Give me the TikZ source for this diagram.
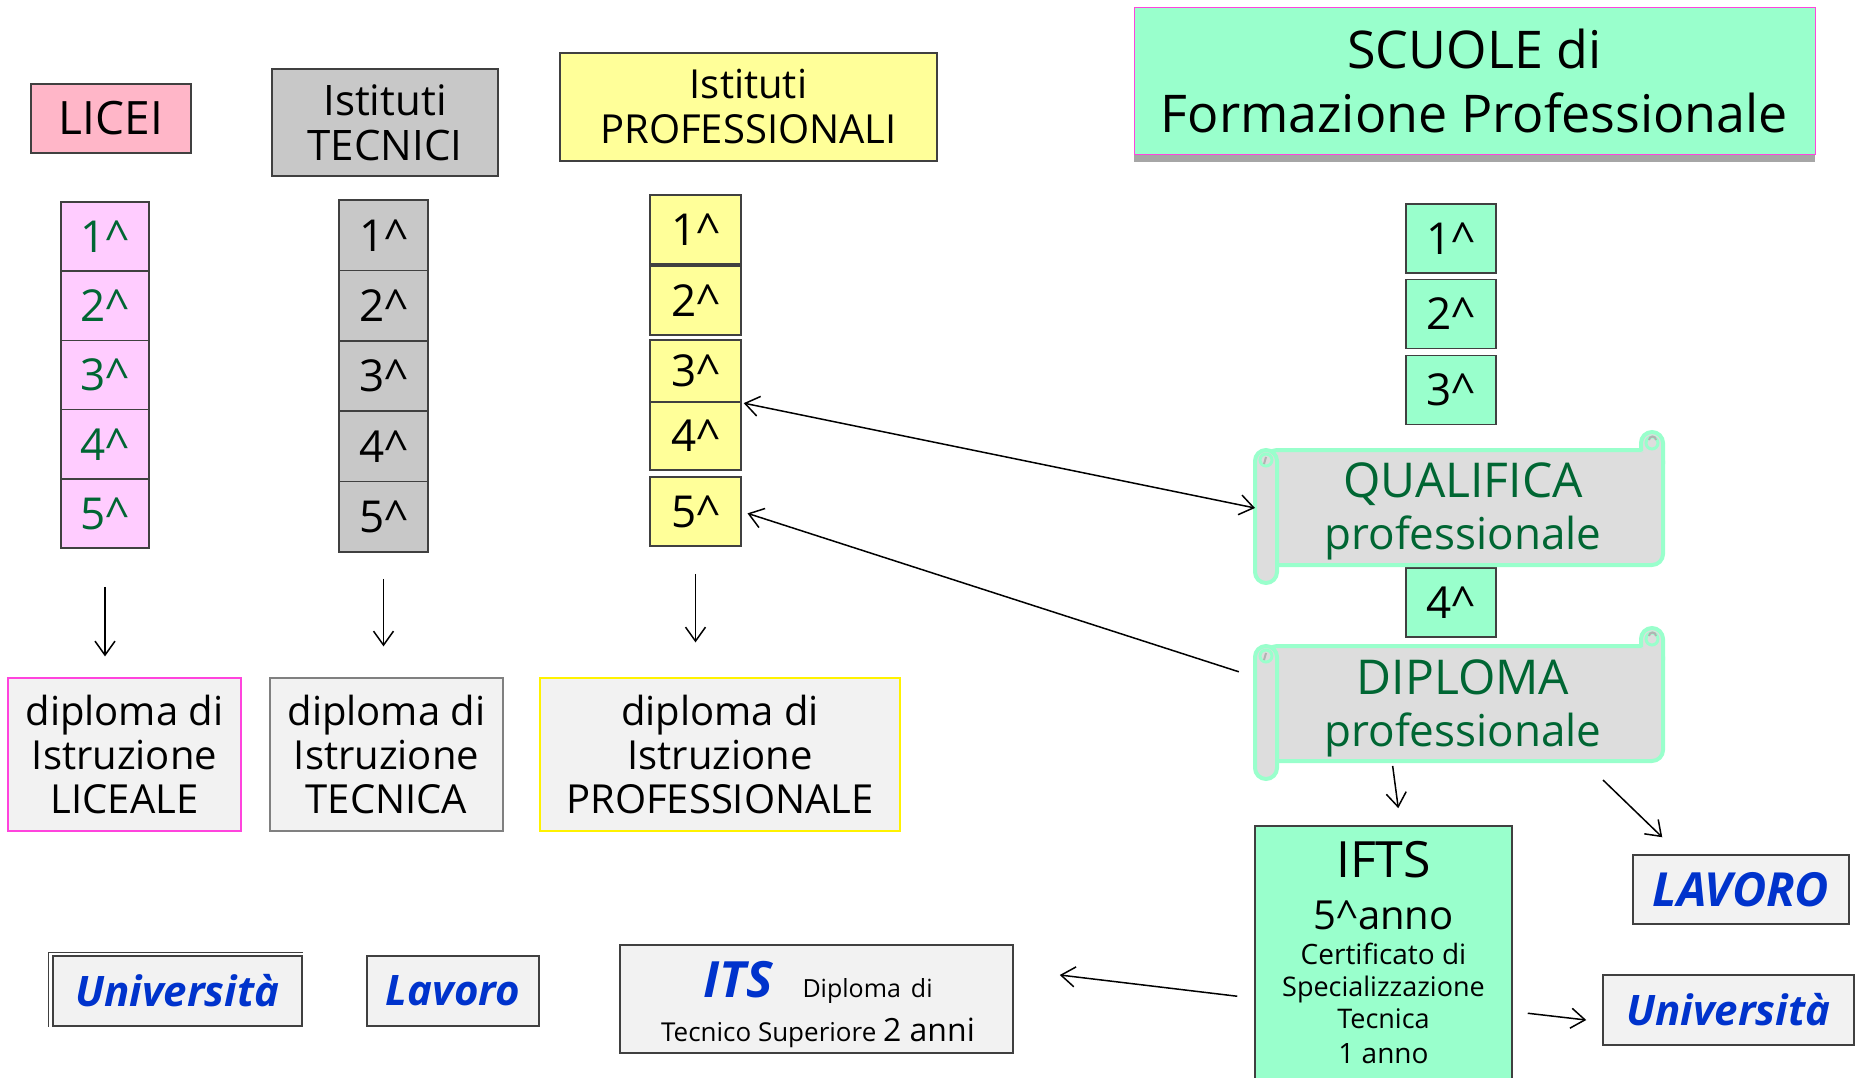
\documentclass[tikz,border=0pt]{standalone}
\usepackage{fontspec}
\setmainfont{Open Sans}
\usetikzlibrary{calc, arrows.meta}

\definecolor{liceipink}{HTML}{FFB6C8}
\definecolor{liceoyear}{HTML}{FFCCFF}
\definecolor{tecgray}{HTML}{C8C8C8}
\definecolor{profyellow}{HTML}{FFFF99}
\definecolor{mint}{HTML}{99FFCC}
\definecolor{scrollgray}{HTML}{DDDDDD}
\definecolor{darkgreen}{HTML}{006633}
\definecolor{paper}{HTML}{F2F2F2}
\definecolor{linkblue}{HTML}{0033CC}
\definecolor{borderpink}{HTML}{FF44DD}

\newcommand{\fsize}[2]{\fontsize{#1}{#2}\selectfont}

\begin{document}
\begin{tikzpicture}[x=1pt, y=-1pt, >={Straight Barb[length=14pt,width=20pt]},
    box/.style={draw=black!75, line width=1.5pt, inner sep=0pt, align=center},
    year/.style={box, minimum width=88, minimum height=69, font=\fsize{44}{46}},
    dbox/.style={box, fill=paper, line width=1.2pt, minimum width=233, minimum height=153, font=\fsize{40}{44}},
    outbox/.style={box, fill=paper, minimum height=70, text=linkblue, font=\fsize{42}{44}\bfseries\itshape},
    scrolltext/.style={inner sep=0pt, align=center, text=darkgreen, font=\fsize{44}{52}},
    scrollline/.style={mint, line width=4pt, fill=scrollgray},
    arr/.style={->, line width=1.5pt}]
      \fill[white] (0,0) rectangle (1856,1078);
      \useasboundingbox (0,0) rectangle (1856,1078);

      \node[box, fill=liceipink, minimum width=160, minimum height=69, font=\fsize{46}{48}] (licei) at (111,118.5) {LICEI};
      \node[box, fill=tecgray, minimum width=226, minimum height=107, font=\fsize{42}{45}] (tecnici) at (385,122.5) {Istituti\\TECNICI};
      \node[box, fill=profyellow, minimum width=377, minimum height=108, font=\fsize{40}{45}] (profess) at (748.5,107) {Istituti\\PROFESSIONALI};
      \fill[gray!70] (1134,16) rectangle (1815,162);
      \node[box, draw=borderpink, line width=1pt, fill=mint, minimum width=681, minimum height=147, font=\fsize{52}{64}] (scuole) at (1474.5,81.5) {SCUOLE di\\Formazione Professionale};

      \foreach \n/\y in {1/236.6, 2/305.8, 3/375, 4/444.2, 5/513.4}
        \node[year, fill=liceoyear, text=darkgreen, minimum height=69.2] (li\n) at (105,\y) {\n\textasciicircum};
      \foreach \n/\y in {1/235.2, 2/305.6, 3/376, 4/446.4, 5/516.8}
        \node[year, fill=tecgray, minimum width=89, minimum height=70.4] (te\n) at (383.5,\y) {\n\textasciicircum};
      \foreach \n/\y/\h in {1/229.5/69, 2/300.5/69, 3/371/62, 4/436/68, 5/511.5/69}
        \node[year, fill=profyellow, minimum width=91, minimum height=\h] (pr\n) at (695.5,\y) {\n\textasciicircum};
      \foreach \n/\y in {1/238.5, 2/314, 3/390, 4/602.5}
        \node[year, fill=mint, minimum width=90] (fp\n) at (1451,\y) {\n\textasciicircum};

      \foreach \sy in {450,646}{
        \draw[scrollline, rounded corners=11] (1266,\sy) rectangle (1663,\sy+115);
        \draw[scrollline, rounded corners=11] (1641,\sy+1) |- (1663,\sy-18) -- (1663,\sy+14);
        \draw[scrollline, rounded corners=11] (1255,\sy) rectangle (1277,\sy+133);
        \draw[mint, line width=3pt] (1266,\sy+10) circle (6);
        \draw[mint, line width=3pt] (1652,\sy-7) circle (6);
        \draw[gray!60, line width=2pt] (1264,\sy+14) -- (1266,\sy+7);
        \draw[gray!60, line width=2pt] (1649,\sy-10) arc (180:360:3.5);
      }
      \node[scrolltext] (qual) at (1463,511) {{\fsize{48}{52}QUALIFICA}\\professionale};
      \node[scrolltext] (dipl) at (1463,708) {{\fsize{48}{52}DIPLOMA}\\professionale};
      \coordinate (qualW) at (1255,508);
      \coordinate (diplW) at (1255,703);
      \coordinate (diplS) at (1463,761);

      \node[dbox, draw=borderpink] (dlic) at (124.5,754.5) {diploma di\\Istruzione\\LICEALE};
      \node[dbox, draw=gray] (dtec) at (386.5,754.5) {diploma di\\Istruzione\\TECNICA};
      \node[dbox, draw=yellow, minimum width=360] (dpro) at (720,754.5) {diploma di\\Istruzione\\PROFESSIONALE};

      \node[outbox, minimum width=249] (uniL) at (177.5,991) {Università};
      \draw[black!75, line width=1.2pt] (uniL.south west) ++(-4,0) |- ($(uniL.north east)+(0,-3)$);
      \node[outbox, minimum width=172] (lavL) at (453,991) {Lavoro};
      \node[box, fill=paper, minimum width=393, minimum height=108] (its) at (816.5,999) {};
      \node[align=center, inner sep=0pt, font=\fsize{26}{44}] (itstext) at (818,1005)
        {{\fsize{50}{44}\color{linkblue}\bfseries\itshape ITS}\hspace{30pt}{\fsize{25}{44}Diploma\hspace{10pt}di}\\Tecnico Superiore {\fsize{32}{44}2 anni}};

      \node[box, fill=mint, minimum width=257, minimum height=265, anchor=north] (ifts) at (1383.5,825) {};
      \foreach \txt/\yb/\s [count=\i] in {IFTS/877/50, 5\textasciicircum anno/929/40, Certificato di/964/28,
          Specializzazione/996/27, Tecnica/1028/27, 1 anno/1063/28}
        \node[anchor=base, font=\fsize{\s}{\s}] (ifts\i) at (1383.5,\yb) {\txt};

      \node[outbox, minimum width=216, minimum height=69, font=\fsize{47}{48}\bfseries\itshape] (lavR) at (1741,889.5) {LAVORO};
      \node[outbox, minimum width=251] (uniR) at (1728.5,1010) {Università};

      \draw[arr, shorten <=38, shorten >=21] (li5.south) -- (li5.south |- dlic.north);
      \draw[arr, shorten <=26, shorten >=31] (te5.south) -- (te5.south |- dtec.north);
      \draw[arr, shorten <=27, shorten >=35] (pr5.south) -- (pr5.south |- dpro.north);
      \draw[<->, line width=1.5pt, shorten <=2] (pr3.south east) -- (qualW);
      \draw[arr, shorten <=17, shorten >=6] ($(diplW)+(0,-26)$) -- (pr5.east);
      \draw[arr, shorten <=5, shorten >=17] ($(diplS)+(-71,0)$) -- ($(ifts.north)+(17,0)$);
      \draw[arr] ($(diplS)+(140,19)$) -- ($(lavR.north west)+(30,-17)$);
      \draw[arr] ($(ifts.west)+(-17,38)$) -- ($(its.east)+(46,-24)$);
      \draw[arr] ($(ifts.east)+(15,55)$) -- ($(uniR.west)+(-16,10)$);
    \end{tikzpicture}
\end{document}
